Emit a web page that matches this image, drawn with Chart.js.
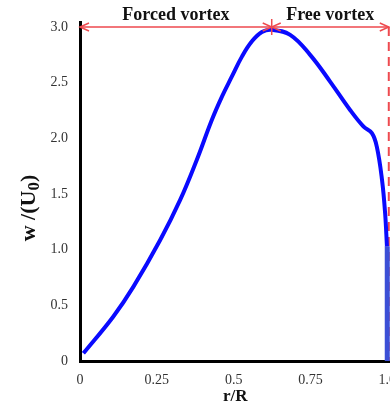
<!DOCTYPE html>
<html lang="en">
<head>
  <meta charset="UTF-8">
  <title>Vortex velocity profile</title>
  <script src="https://cdn.jsdelivr.net/npm/chart.js"></script>
  <style>
    body {
      margin: 0;
      overflow: hidden;
      background: #fff;
    }
    canvas {
      display: block;
    }
  </style>
</head>
<body>
  <canvas id="vortexChart" width="407" height="408"></canvas>

  <script>
    // velocity profile read along r/R
    const rR = [0.011, 0.108, 0.174, 0.261, 0.326, 0.380, 0.429, 0.462, 0.494, 0.527, 0.559, 0.592, 0.624,
                0.684, 0.749, 0.814, 0.879, 0.923, 0.950, 0.966, 0.983, 0.993, 0.999];
    const wU = [0.069, 0.398, 0.668, 1.087, 1.447, 1.806, 2.165, 2.375, 2.554, 2.734, 2.869, 2.955, 2.975,
                2.93, 2.75, 2.51, 2.255, 2.105, 2.046, 1.925, 1.626, 1.33, 1.03];
    // drop to the wall at r/R = 1
    const wallR = [1.0, 1.0];
    const wallW = [1.03, 0];

    const xTicks = [0, 0.25, 0.5, 0.75, 1.0];
    const yTicks = [0, 0.5, 1.0, 1.5, 2.0, 2.5, 3.0];

    const peakR = 0.624;       // boundary forced / free
    const edgeR = 1.005;       // dashed outer boundary
    const arrowW = 3.0;        // level of the region arrows
    const regions = ['Forced vortex', 'Free vortex'];

    const fmt = v => v === 0 ? '0' : (Number.isInteger(v) ? v.toFixed(1) : String(v));
    const pts = (xs, ys) => xs.map((x, i) => ({ x: x, y: ys[i] }));

    const RED = '#ee4a4f';

    // region arrows, peak marker, region names and y title
    const annotations = {
      id: 'annotations',
      afterDatasetsDraw(chart) {
        const { ctx, scales: { x, y } } = chart;
        const yA = y.getPixelForValue(arrowW);
        const x0 = x.getPixelForValue(0);
        const xP = x.getPixelForValue(peakR);
        const xE = x.getPixelForValue(edgeR);

        ctx.save();
        ctx.strokeStyle = RED;
        ctx.lineWidth = 1.5;
        ctx.beginPath();
        ctx.moveTo(x0, yA);
        ctx.lineTo(xE, yA);
        // peak marker
        ctx.moveTo(xP, yA - 8);
        ctx.lineTo(xP, yA + 8);
        ctx.stroke();

        function head(px, dir) {
          ctx.beginPath();
          ctx.moveTo(px + dir * 9, yA - 4);
          ctx.lineTo(px, yA);
          ctx.lineTo(px + dir * 9, yA + 4);
          ctx.stroke();
        }
        head(x0, 1);
        head(xP, -1);
        head(xP, 1);
        head(xE, -1);

        // region names
        ctx.fillStyle = '#111';
        ctx.font = 'bold 18px "Liberation Serif"';
        ctx.textAlign = 'center';
        ctx.textBaseline = 'alphabetic';
        ctx.fillText(regions[0], (x0 + xP) / 2, yA - 7);
        ctx.fillText(regions[1], (xP + xE) / 2, yA - 7);

        // y axis title with subscript
        ctx.translate(29, 208);
        ctx.rotate(-Math.PI / 2);
        const main = 'w /(U';
        const big = 'bold 22px "Liberation Serif"';
        const small = 'bold 17px "Liberation Serif"';
        ctx.font = big;
        const wMain = ctx.measureText(main).width;
        const wClose = ctx.measureText(')').width;
        ctx.font = small;
        const wSub = ctx.measureText('0').width;
        let cx = -(wMain + wSub + wClose) / 2;
        ctx.textAlign = 'left';
        ctx.textBaseline = 'middle';
        ctx.font = big;
        ctx.fillText(main, cx, 0);
        cx += wMain;
        ctx.font = small;
        ctx.fillText('0', cx, 6);
        cx += wSub;
        ctx.font = big;
        ctx.fillText(')', cx, 0);
        ctx.restore();
      }
    };

    new Chart(document.getElementById('vortexChart'), {
      type: 'line',
      data: {
        datasets: [
          {
            data: pts(rR, wU),
            borderColor: '#0a0aff',
            borderWidth: 4,
            pointRadius: 0,
            tension: 0.4
          },
          {
            data: pts(wallR, wallW),
            borderColor: '#3b4fd6',
            borderWidth: 5,
            pointRadius: 0
          },
          {
            data: pts([edgeR, edgeR], [arrowW, 0]),
            borderColor: RED,
            borderWidth: 2,
            borderDash: [9, 6],
            pointRadius: 0
          }
        ]
      },
      options: {
        responsive: false,
        animation: false,
        layout: { padding: { top: 22, right: 0, left: 0, bottom: 0 } },
        plugins: {
          legend: { display: false },
          tooltip: { enabled: false }
        },
        scales: {
          x: {
            type: 'linear',
            min: 0,
            max: 1.01,
            afterBuildTicks: s => { s.ticks = xTicks.map(v => ({ value: v })); },
            afterFit: s => { s.height = 47; },
            grid: { display: false, drawTicks: false },
            border: { display: true, color: '#000', width: 3 },
            ticks: {
              padding: 11,
              color: '#333',
              font: { family: 'Liberation Serif', size: 14 },
              maxRotation: 0,
              callback: v => fmt(v)
            },
            title: {
              display: true,
              text: 'r/R',
              color: '#111',
              font: { family: 'Liberation Serif', size: 17, weight: 'bold' },
              padding: { top: 0, bottom: 1 }
            }
          },
          y: {
            min: 0,
            max: 3.045,
            afterBuildTicks: s => { s.ticks = yTicks.map(v => ({ value: v })); },
            afterFit: s => { s.width = 80; },
            grid: { display: false, drawTicks: false },
            border: { display: true, color: '#000', width: 3 },
            ticks: {
              padding: 12,
              color: '#333',
              font: { family: 'Liberation Serif', size: 14 },
              callback: v => fmt(v)
            }
          }
        }
      },
      plugins: [annotations]
    });
  </script>
</body>
</html>
